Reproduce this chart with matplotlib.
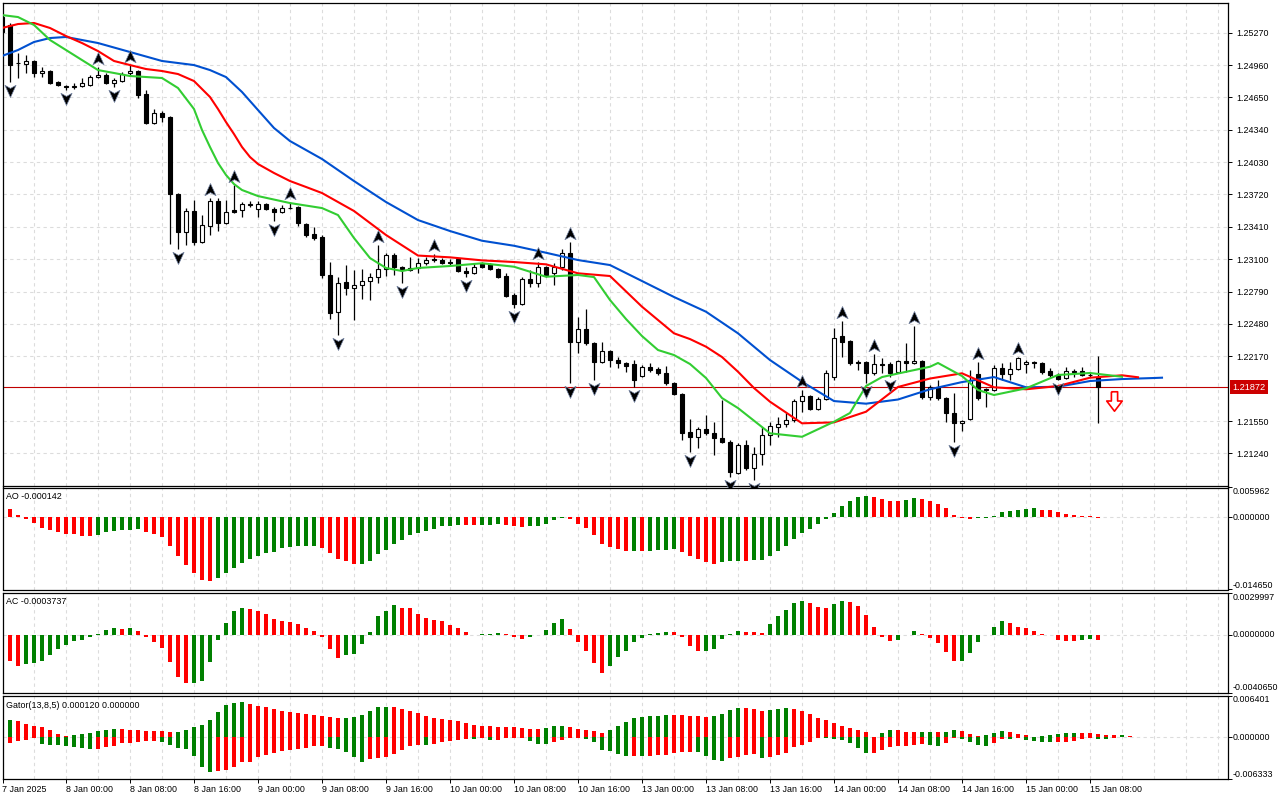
import numpy as np
import pandas as pd
import matplotlib
matplotlib.use("Agg")
import matplotlib.pyplot as plt
from matplotlib.path import Path
from matplotlib.transforms import offset_copy, blended_transform_factory

# H1 candles, first bar = 7 Jan 2025 16:00
opens = [1.25420, 1.25344, 1.24979, 1.24967, 1.24999, 1.24884, 1.24903, 1.24797, 1.24759, 1.24754,
         1.24759, 1.24769, 1.24845, 1.24865, 1.24788, 1.24807, 1.24884, 1.24903, 1.24683, 1.24405,
         1.24500, 1.24462, 1.23725, 1.23360, 1.23562, 1.23265, 1.23418, 1.23657, 1.23447, 1.23571,
         1.23571, 1.23624, 1.23581, 1.23629, 1.23581, 1.23552, 1.23590, 1.23600, 1.23437, 1.23341,
         1.23313, 1.22949, 1.22594, 1.22881, 1.22824, 1.22853, 1.22891, 1.22929, 1.23006, 1.23140,
         1.23025, 1.23016, 1.23016, 1.23064, 1.23102, 1.23092, 1.23073, 1.23102, 1.22987, 1.22968,
         1.23064, 1.23054, 1.23006, 1.22939, 1.22757, 1.22671, 1.22910, 1.22872, 1.23025, 1.22968,
         1.23025, 1.23159, 1.22307, 1.22431, 1.22297, 1.22115, 1.22220, 1.22134, 1.22106, 1.22096,
         1.21981, 1.22067, 1.22048, 1.22010, 1.21914, 1.21808, 1.21444, 1.21396, 1.21473, 1.21435,
         1.21387, 1.21349, 1.21052, 1.21320, 1.21100, 1.21234, 1.21416, 1.21492, 1.21521, 1.21559,
         1.21741, 1.21789, 1.21665, 1.21761, 1.21971, 1.22364, 1.22316, 1.22115, 1.22115, 1.22010,
         1.22096, 1.22096, 1.22019, 1.22125, 1.22106, 1.22125, 1.21780, 1.21876, 1.21770, 1.21627,
         1.21531, 1.21569, 1.22000, 1.21856, 1.21847, 1.22058, 1.22000, 1.22048, 1.22096, 1.22115,
         1.22106, 1.22029, 1.21991, 1.21962, 1.22029, 1.22029, 1.21991, 1.21971]
highs = [1.25439, 1.25363, 1.25075, 1.25056, 1.25008, 1.24941, 1.24912, 1.24807, 1.24769, 1.24788,
         1.24836, 1.24865, 1.24941, 1.24884, 1.24836, 1.24893, 1.24960, 1.24912, 1.24721, 1.24539,
         1.24520, 1.24472, 1.23734, 1.23590, 1.23667, 1.23523, 1.23686, 1.23686, 1.23667, 1.23811,
         1.23648, 1.23657, 1.23657, 1.23638, 1.23600, 1.23619, 1.23650, 1.23609, 1.23447, 1.23408,
         1.23332, 1.23073, 1.22929, 1.23044, 1.22996, 1.23006, 1.22968, 1.23236, 1.23159, 1.23159,
         1.23035, 1.23121, 1.23111, 1.23121, 1.23150, 1.23111, 1.23102, 1.23111, 1.23025, 1.23064,
         1.23073, 1.23064, 1.23016, 1.22968, 1.22776, 1.22929, 1.22996, 1.23073, 1.23035, 1.23064,
         1.23198, 1.23265, 1.22546, 1.22623, 1.22307, 1.22307, 1.22230, 1.22163, 1.22115, 1.22134,
         1.22086, 1.22106, 1.22067, 1.22077, 1.21923, 1.21818, 1.21569, 1.21492, 1.21607, 1.21540,
         1.21751, 1.21368, 1.21339, 1.21368, 1.21301, 1.21492, 1.21540, 1.21588, 1.21627, 1.21761,
         1.21847, 1.21799, 1.21780, 1.22038, 1.22441, 1.22508, 1.22326, 1.22134, 1.22125, 1.22192,
         1.22153, 1.22115, 1.22134, 1.22297, 1.22460, 1.22134, 1.21895, 1.21943, 1.21780, 1.21818,
         1.21559, 1.22038, 1.22115, 1.21866, 1.22086, 1.22106, 1.22115, 1.22163, 1.22134, 1.22125,
         1.22115, 1.22058, 1.22010, 1.22067, 1.22048, 1.22067, 1.22019, 1.22173]
lows = [1.25267, 1.24797, 1.24836, 1.24884, 1.24845, 1.24845, 1.24778, 1.24759, 1.24721, 1.24730,
        1.24750, 1.24759, 1.24836, 1.24778, 1.24750, 1.24797, 1.24865, 1.24644, 1.24400, 1.24400,
        1.24414, 1.23246, 1.23198, 1.23236, 1.23236, 1.23255, 1.23332, 1.23370, 1.23437, 1.23542,
        1.23504, 1.23600, 1.23504, 1.23571, 1.23466, 1.23542, 1.23581, 1.23418, 1.23313, 1.23284,
        1.22920, 1.22527, 1.22374, 1.22757, 1.22517, 1.22719, 1.22709, 1.22872, 1.22939, 1.22949,
        1.22872, 1.22987, 1.22968, 1.23044, 1.23073, 1.23054, 1.23044, 1.22977, 1.22929, 1.22958,
        1.23016, 1.22996, 1.22920, 1.22738, 1.22632, 1.22661, 1.22834, 1.22834, 1.22929, 1.22853,
        1.22996, 1.21914, 1.22201, 1.22278, 1.21943, 1.22106, 1.22067, 1.22058, 1.22019, 1.21876,
        1.21971, 1.22019, 1.21991, 1.21895, 1.21799, 1.21368, 1.21253, 1.21291, 1.21416, 1.21224,
        1.21339, 1.21013, 1.21042, 1.21080, 1.20985, 1.21128, 1.21320, 1.21396, 1.21492, 1.21540,
        1.21636, 1.21655, 1.21655, 1.21751, 1.21943, 1.22163, 1.22086, 1.22038, 1.21914, 1.21991,
        1.22010, 1.21971, 1.22010, 1.22019, 1.22096, 1.21761, 1.21751, 1.21751, 1.21540, 1.21349,
        1.21454, 1.21559, 1.21751, 1.21684, 1.21837, 1.21943, 1.21943, 1.22038, 1.22010, 1.22058,
        1.22000, 1.21971, 1.21943, 1.21952, 1.21971, 1.21981, 1.21971, 1.21534]
closes = [1.25276, 1.24960, 1.24975, 1.24999, 1.24884, 1.24903, 1.24788, 1.24769, 1.24750, 1.24759,
          1.24788, 1.24845, 1.24865, 1.24788, 1.24817, 1.24874, 1.24903, 1.24673, 1.24408, 1.24500,
          1.24462, 1.23725, 1.23360, 1.23562, 1.23265, 1.23428, 1.23657, 1.23447, 1.23552, 1.23552,
          1.23629, 1.23629, 1.23629, 1.23581, 1.23552, 1.23590, 1.23595, 1.23447, 1.23332, 1.23303,
          1.22949, 1.22585, 1.22872, 1.22824, 1.22853, 1.22891, 1.22929, 1.23006, 1.23140, 1.23025,
          1.23006, 1.22996, 1.23064, 1.23092, 1.23097, 1.23064, 1.23068, 1.22987, 1.22968, 1.23025,
          1.23025, 1.23006, 1.22929, 1.22747, 1.22671, 1.22910, 1.22872, 1.23025, 1.22949, 1.23025,
          1.23159, 1.22307, 1.22431, 1.22297, 1.22115, 1.22220, 1.22134, 1.22106, 1.22077, 1.21943,
          1.22067, 1.22038, 1.22010, 1.21914, 1.21808, 1.21435, 1.21396, 1.21473, 1.21435, 1.21387,
          1.21349, 1.21061, 1.21320, 1.21100, 1.21234, 1.21416, 1.21502, 1.21521, 1.21559, 1.21741,
          1.21789, 1.21665, 1.21761, 1.22010, 1.22345, 1.22307, 1.22106, 1.22110, 1.22010, 1.22096,
          1.22091, 1.22010, 1.22125, 1.22106, 1.22125, 1.21780, 1.21876, 1.21770, 1.21627, 1.21531,
          1.21550, 1.21943, 1.21770, 1.21851, 1.22058, 1.22000, 1.22048, 1.22153, 1.22115, 1.22110,
          1.22019, 1.21991, 1.21952, 1.22029, 1.22024, 1.21991, 1.21986, 1.21872]

fractal_up = [12, 16, 26, 29, 36, 47, 54, 67, 71, 100, 105, 109, 114, 122, 127]
fractal_down = [1, 8, 14, 22, 34, 42, 50, 58, 64, 71, 74, 79, 86, 91, 94, 108, 111, 119, 132]

# Alligator lines (already shifted forward, as MT5 draws them)
jaw_x = [0, 2, 4, 6, 8, 12, 16, 20, 24, 26, 28, 30, 32, 34, 36, 38, 40, 44, 48, 52,
         56, 60, 64, 68, 72, 76, 80, 84, 88, 92, 96, 100, 104, 108, 112, 116, 120, 124, 128, 132,
         136, 140, 144, 145]
jaw = [1.25047, 1.25104, 1.25181, 1.25219, 1.25229, 1.25171, 1.25085, 1.24999, 1.24960, 1.24912,
       1.24845, 1.24702, 1.24529, 1.24357, 1.24232, 1.24146, 1.24060, 1.23849, 1.23648, 1.23475,
       1.23370, 1.23277, 1.23229, 1.23162, 1.23092, 1.23044, 1.22891, 1.22738, 1.22597, 1.22390,
       1.22134, 1.21926, 1.21741, 1.21716, 1.21756, 1.21854, 1.21923, 1.21971, 1.21873, 1.21878,
       1.21933, 1.21952, 1.21962, 1.21965]
teeth_x = [0, 2, 4, 6, 8, 10, 12, 14, 16, 18, 20, 22, 24, 26, 27, 28, 29, 30, 31, 32,
           34, 36, 38, 40, 44, 48, 52, 56, 60, 64, 68, 72, 76, 80, 84, 86, 88, 90, 92, 94,
           96, 100, 104, 108, 112, 116, 120, 124, 128, 132, 136, 140, 142]
teeth = [1.25315, 1.25353, 1.25363, 1.25315, 1.25238, 1.25171, 1.25094, 1.24999, 1.24960, 1.24922,
         1.24903, 1.24874, 1.24807, 1.24654, 1.24539, 1.24414, 1.24299, 1.24175, 1.24079, 1.24012,
         1.23926, 1.23849, 1.23792, 1.23734, 1.23562, 1.23332, 1.23135, 1.23118, 1.23089, 1.23073,
         1.23051, 1.22965, 1.22939, 1.22645, 1.22390, 1.22335, 1.22262, 1.22163, 1.22022, 1.21866,
         1.21735, 1.21528, 1.21537, 1.21639, 1.21876, 1.21957, 1.22007, 1.21873, 1.21854, 1.21885,
         1.21965, 1.21988, 1.21969]
lips_x = [0, 2, 4, 6, 8, 10, 12, 14, 16, 20, 22, 24, 25, 26, 27, 28, 29, 30, 32, 36,
          40, 42, 44, 46, 48, 50, 52, 56, 60, 64, 68, 72, 74, 76, 78, 80, 82, 84, 86, 88,
          90, 92, 96, 100, 104, 106, 108, 110, 112, 116, 117, 120, 122, 124, 128, 132, 136, 140]
lips = [1.25439, 1.25420, 1.25344, 1.25200, 1.25104, 1.25008, 1.24912, 1.24884, 1.24855, 1.24836,
        1.24740, 1.24539, 1.24338, 1.24175, 1.24022, 1.23907, 1.23820, 1.23763, 1.23705, 1.23638,
        1.23590, 1.23523, 1.23303, 1.23111, 1.23016, 1.22987, 1.23016, 1.23035, 1.23061, 1.23028,
        1.22932, 1.22949, 1.22929, 1.22709, 1.22527, 1.22364, 1.22230, 1.22182, 1.22096, 1.21962,
        1.21770, 1.21674, 1.21432, 1.21399, 1.21543, 1.21627, 1.21885, 1.21971, 1.22005, 1.22070,
        1.22106, 1.21981, 1.21847, 1.21799, 1.21863, 1.21991, 1.22010, 1.21974]

ao = np.array([28.4, 16.9, 4.7, -4.7, -12.9, -23.0, -27.1, -31.1, -34.5, -35.2,
               -37.9, -38.3, -35.9, -31.1, -29.1, -27.1, -25.7, -25.0, -29.8, -35.2,
               -39.9, -58.2, -77.9, -96.8, -113.1, -127.3, -129.3, -122.5, -113.1, -102.2,
               -92.7, -83.9, -77.9, -72.4, -70.4, -63.6, -61.6, -58.9, -58.2, -57.9,
               -62.3, -72.4, -84.6, -88.7, -94.8, -94.1, -88.7, -74.5, -66.3, -54.2,
               -46.0, -35.9, -31.8, -27.8, -23.7, -17.6, -17.3, -15.6, -15.9, -16.2,
               -15.9, -15.6, -13.5, -15.6, -17.6, -19.6, -19.0, -17.6, -13.5, -6.8,
               -1.4, -4.7, -13.5, -21.7, -35.9, -54.2, -60.3, -64.3, -68.4, -68.0,
               -68.4, -68.0, -66.3, -66.0, -64.3, -70.4, -78.5, -84.6, -90.7, -94.8,
               -90.7, -88.7, -88.3, -88.7, -86.7, -86.3, -78.5, -68.4, -58.2, -44.0,
               -31.8, -23.7, -13.5, -4.7, 8.8, 23.0, 33.2, 41.3, 43.3, 41.3,
               37.2, 33.2, 32.8, 35.2, 39.3, 37.2, 33.2, 27.1, 19.0, 4.7,
               -2.7, -4.7, -2.7, -2.0, 2.0, 10.8, 12.9, 13.2, 16.9, 17.3,
               14.9, 14.6, 10.8, 6.8, 4.7, 2.7, 2.4, -1.42]) * 1e-4
ac = np.array([-12.7, -18.6, -22.1, -20.7, -20.0, -18.6, -14.4, -10.1, -7.3, -4.5,
               -3.8, -1.6, 0.5, 3.8, 4.6, 4.5, 4.6, 2.6, -1.6, -5.2,
               -8.9, -19.3, -29.9, -34.1, -34.0, -32.7, -19.3, -3.8, 8.2, 16.7,
               19.3, 18.6, 16.7, 14.6, 11.1, 9.7, 8.9, 7.5, 4.7, 3.1,
               -1.2, -10.1, -16.5, -14.4, -13.7, -6.6, 2.1, 13.7, 17.2, 21.4,
               19.3, 19.2, 15.1, 12.2, 10.6, 9.9, 7.3, 5.2, 2.4, 0.2,
               0.35, 0.7, 1.4, 0.9, -1.2, -3.1, -1.6, -0.2, 3.5, 8.7,
               11.5, 4.5, -5.2, -11.5, -20.0, -26.6, -22.1, -15.8, -11.5, -5.2,
               -2.4, 0.5, 1.6, 2.4, 2.2, -1.4, -8.0, -11.5, -11.3, -10.1,
               -3.1, 0.7, 3.1, 2.4, 1.8, 1.6, 8.0, 13.7, 17.9, 22.8,
               24.3, 22.8, 20.0, 19.3, 22.1, 24.3, 23.6, 20.7, 14.4, 5.9,
               -1.6, -4.5, -3.8, 0.2, 3.1, 0.7, -2.4, -5.9, -12.2, -18.6,
               -18.4, -13.0, -5.2, 0.2, 5.9, 9.9, 8.7, 5.9, 5.2, 3.1,
               0.7, 0.2, -3.8, -4.5, -4.6, -3.8, -3.1, -3.737]) * 1e-4
# Gator: |jaw - teeth| above zero, |teeth - lips| below zero
gator_up = np.array([26.4, 26.9, 24.4, 20.3, 17.8, 15.7, 11.2, 5.6, 1.5, 4.1,
                     5.6, 7.1, 10.2, 11.7, 13.2, 13.0, 11.7, 11.4, 10.2, 9.9,
                     9.7, 8.6, 8.9, 11.7, 16.3, 19.3, 26.9, 39.1, 49.8, 52.8,
                     54.4, 51.3, 48.3, 46.7, 43.7, 40.6, 39.1, 37.6, 36.1, 34.5,
                     33.0, 31.5, 30.0, 30.2, 31.5, 34.5, 40.6, 46.7, 47.0, 46.7,
                     43.7, 40.6, 37.6, 33.0, 30.0, 28.4, 26.9, 25.4, 22.4, 19.3,
                     17.8, 17.5, 16.3, 16.0, 15.7, 14.7, 13.2, 13.0, 14.7, 17.8,
                     18.0, 15.7, 13.2, 11.7, 10.2, 7.1, 11.7, 17.8, 23.9, 30.0,
                     31.5, 33.0, 33.3, 34.5, 34.3, 34.0, 33.0, 32.8, 31.5, 33.0,
                     36.1, 42.2, 45.2, 45.0, 43.7, 40.6, 42.2, 43.7, 45.2, 43.7,
                     40.6, 36.1, 30.0, 26.9, 22.4, 17.8, 14.7, 11.7, 8.6, 1.0,
                     6.1, 11.2, 10.9, 8.1, 7.9, 8.1, 8.4, 8.1, 8.4, 11.2,
                     9.7, 5.1, 2.0, 3.6, 6.6, 9.7, 8.1, 5.1, 3.6, 0.5,
                     1.5, 3.6, 5.1, 6.6, 6.9, 6.6, 6.4, 5.1, 3.6, 3.3,
                     3.6, 2.0, 1.0]) * 1e-4
gator_down = np.array([14.2, 8.1, 5.1, 3.6, 1.5, 9.7, 11.2, 11.4, 12.7, 14.2,
                       15.7, 17.3, 17.0, 14.2, 12.7, 8.1, 7.9, 7.6, 5.1, 4.8,
                       6.6, 11.2, 15.7, 17.3, 27.9, 44.7, 52.3, 50.8, 49.3, 44.7,
                       37.3, 37.1, 29.5, 26.4, 23.4, 20.3, 18.8, 17.3, 15.7, 12.7,
                       12.4, 15.7, 17.3, 21.8, 29.5, 37.1, 32.5, 31.0, 29.5, 24.9,
                       18.8, 12.7, 11.2, 11.4, 9.7, 6.6, 5.1, 3.6, 2.0, 2.3,
                       1.0, 3.6, 3.3, 1.5, 1.3, 1.0, 5.1, 9.7, 9.9, 6.6,
                       3.6, 1.5, 0.5, 2.0, 6.6, 18.8, 20.3, 24.9, 27.9, 27.7,
                       27.9, 27.7, 26.4, 26.2, 23.4, 21.8, 21.6, 21.8, 27.9, 34.0,
                       35.6, 31.0, 29.5, 26.4, 24.9, 31.0, 29.5, 26.4, 23.4, 15.2,
                       11.2, 6.6, 1.0, 1.5, 2.0, 3.6, 8.1, 15.7, 23.6, 23.4,
                       18.8, 14.2, 12.7, 12.4, 11.2, 9.7, 11.2, 12.7, 8.1, 1.5,
                       2.5, 6.6, 11.2, 12.7, 8.1, 2.0, 2.3, 0.5, 3.6, 5.1,
                       6.6, 6.9, 6.6, 6.4, 5.1, 2.0, 1.5, 2.0, 2.3, 1.0,
                       0.0]) * 1e-4

last_price = 1.21872
signal_bar = 139
signal_price = 1.21746

price_ticks = [1.25270, 1.24960, 1.24650, 1.24340, 1.24030, 1.23720, 1.23410,
               1.23100, 1.22790, 1.22480, 1.22170, 1.21550, 1.21240]
main_range = (1.209322, 1.255593)
ao_range = (-0.014650, 0.005962)
ac_range = (-0.0040650, 0.0029997)
gator_range = (-0.006333, 0.006401)

GREEN = "#008000"
RED = "#ff0000"
GRID = "#dcdcdc"

plt.rcParams["font.family"] = ["Liberation Sans", "DejaVu Sans"]
plt.rcParams["font.size"] = 6.4

W, H = 1280, 800
fig = plt.figure(figsize=(W / 100, H / 100), dpi=100)


def add_panel(top, bottom):
    left, right = 2.5, 1227.5
    ax = fig.add_axes([left / W, 1 - bottom / H, (right - left) / W, (bottom - top) / H])
    ax.set_xlim(0.0625, 153.1875)
    for s in ax.spines.values():
        s.set_linewidth(0.9)
        s.set_color("black")
    ax.yaxis.tick_right()
    ax.tick_params(axis="y", direction="out", length=3, width=0.7, pad=3, labelsize=6.4)
    ax.tick_params(axis="x", length=0, labelbottom=False)
    for b in range(0, 154, 4):
        ax.axvline(b, color=GRID, lw=0.8, ls=(0, (3, 3)), zorder=0)
    return ax


def trend_colors(vals, first):
    cols = [first]
    for a, b in zip(vals[:-1], vals[1:]):
        cols.append(GREEN if b > a else RED)
    return cols


ax = add_panel(2.5, 485.5)
ax_ao = add_panel(487.5, 589.5)
ax_ac = add_panel(592.5, 692.5)
ax_gt = add_panel(695.5, 779.0)

# ---- main chart ----
x = np.arange(len(opens))
o, h, l, c = map(np.array, (opens, highs, lows, closes))
ax.set_ylim(*main_range)
ax.set_yticks(price_ticks, [f"{p:.5f}" for p in price_ticks])
for p in price_ticks:
    ax.axhline(p, color=GRID, lw=0.8, ls=(0, (3, 3)), zorder=0)

ax.axhline(last_price, color="#c00000", lw=0.8, zorder=1)
ax.vlines(x, l, h, color="black", lw=0.9, zorder=2)
bull = c >= o
ax.bar(x, np.abs(c - o) + 1e-6, bottom=np.minimum(o, c), width=0.6,
       color=np.where(bull, "white", "black"), edgecolor="black", lw=0.8, zorder=2.5)

ax.plot(jaw_x, jaw, color="#0050d0", lw=1.5, zorder=3)
ax.plot(teeth_x, teeth, color="#ff0000", lw=1.5, zorder=3)
ax.plot(lips_x, lips, color="#32cd32", lw=1.5, zorder=3)

up_path = Path([(0, 1), (0.8, -0.75), (0, -0.3), (-0.8, -0.75), (0, 1)],
               [Path.MOVETO, Path.LINETO, Path.LINETO, Path.LINETO, Path.CLOSEPOLY])
down_path = Path([(0, -1), (0.8, 0.75), (0, 0.3), (-0.8, 0.75), (0, -1)],
                 [Path.MOVETO, Path.LINETO, Path.LINETO, Path.LINETO, Path.CLOSEPOLY])
above = offset_copy(ax.transData, fig=fig, x=0, y=8, units="dots")
below = offset_copy(ax.transData, fig=fig, x=0, y=-8, units="dots")
ax.plot(fractal_up, h[fractal_up], ls="none", marker=up_path, ms=10, mfc="black",
        mec="#7080a0", mew=0.5, transform=above, zorder=4, clip_on=False)
ax.plot(fractal_down, l[fractal_down], ls="none", marker=down_path, ms=10, mfc="black",
        mec="#7080a0", mew=0.5, transform=below, zorder=4, clip_on=False)

sell_path = Path([(-0.32, 1), (0.32, 1), (0.32, 0.05), (0.8, 0.05), (0, -1),
                  (-0.8, 0.05), (-0.32, 0.05), (-0.32, 1)])
ax.plot([signal_bar], [signal_price], ls="none", marker=sell_path, ms=14,
        mfc="white", mec="red", mew=1.2, zorder=4)

yblend = blended_transform_factory(ax.transAxes, ax.transData)
ax.text(1.0, last_price, f"{last_price:.5f}",
        transform=offset_copy(yblend, fig=fig, x=5, y=0, units="dots"),
        ha="left", va="center", color="white", fontsize=6.6, zorder=6, clip_on=False,
        bbox=dict(boxstyle="square,pad=0.28", fc="#cc0000", ec="none"))


# ---- indicator panels ----
def scale_labels(axp, rng, fmt):
    axp.set_ylim(*rng)
    axp.set_yticks([rng[0], 0.0, rng[1]], ["", "", ""])
    axp.axhline(0, color=GRID, lw=0.8, ls=(0, (3, 3)), zorder=0)
    tr = offset_copy(blended_transform_factory(axp.transAxes, axp.transData),
                     fig=fig, x=5, y=0, units="dots")
    for val, va in ((rng[1], "top"), (0.0, "center"), (rng[0], "bottom")):
        axp.text(1.0, val, fmt % val, transform=tr, ha="left", va=va, fontsize=6.4, clip_on=False)


def header(axp, text):
    axp.annotate(text, xy=(0, 1), xycoords="axes fraction", xytext=(3.5, -9.5),
                 textcoords="offset pixels", ha="left", va="center", fontsize=6.4)


scale_labels(ax_ao, ao_range, "%.6f")
ax_ao.bar(np.arange(len(ao)), ao, width=0.5, color=trend_colors(ao, RED), lw=0, zorder=2)
header(ax_ao, f"AO {ao[-1]:.6f}")

scale_labels(ax_ac, ac_range, "%.7f")
ax_ac.bar(np.arange(len(ac)), ac, width=0.5, color=trend_colors(ac, RED), lw=0, zorder=2)
header(ax_ac, f"AC {ac[-1]:.7f}")

scale_labels(ax_gt, gator_range, "%.6f")
ax_gt.bar(np.arange(len(gator_up)), gator_up, width=0.5,
          color=trend_colors(gator_up, GREEN), lw=0, zorder=2)
ax_gt.bar(np.arange(len(gator_down)), -gator_down, width=0.5,
          color=trend_colors(gator_down, RED), lw=0, zorder=2)
header(ax_gt, "Gator(13,8,5) 0.000120 0.000000")

# ---- time axis ----
times = pd.date_range("2025-01-07 16:00", "2025-01-15 09:00", freq="h")
times = times[times.dayofweek < 5]
label_bars = list(range(0, len(times), 8))
labels = [f"{t.day} {t:%b %H:%M}" for t in times[label_bars]]
labels[0] = f"{times[0].day} {times[0]:%b %Y}"
ax_gt.set_xticks(label_bars, labels, ha="left")
ax_gt.tick_params(axis="x", direction="out", length=3, width=0.7, pad=1.5,
                  labelbottom=True, labelsize=6.4)

fig.savefig("out.png", dpi=100)
